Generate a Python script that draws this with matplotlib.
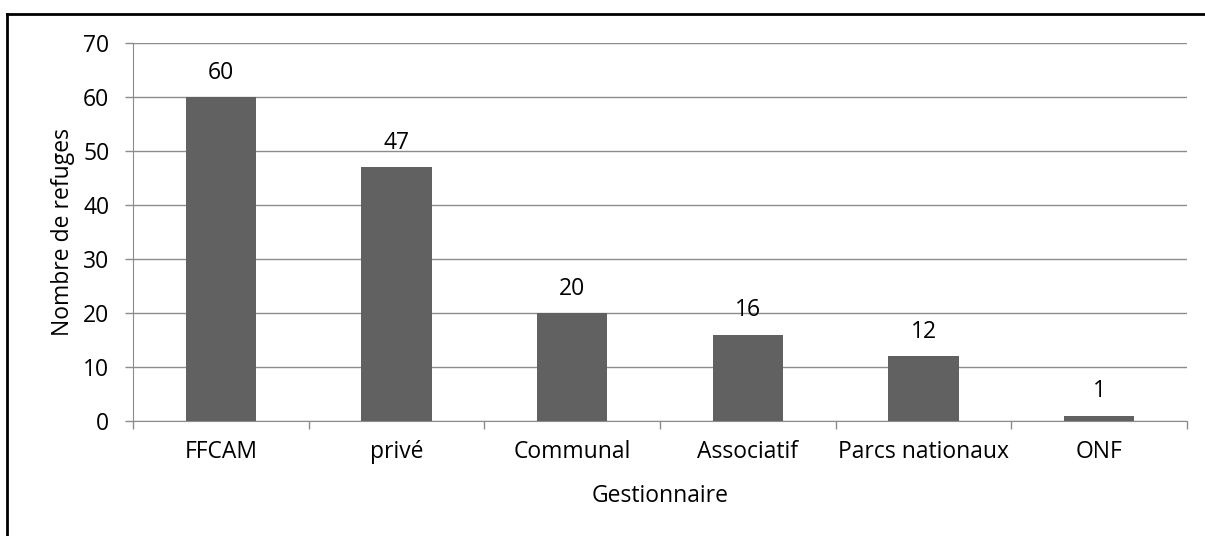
import matplotlib
matplotlib.use("Agg")
import matplotlib.pyplot as plt
from matplotlib.lines import Line2D

categories = ["FFCAM", "privé", "Communal", "Associatif", "Parcs nationaux", "ONF"]
values = [60, 47, 20, 16, 12, 1]
yticks = [0, 10, 20, 30, 40, 50, 60, 70]

plt.rcParams['font.family'] = ['Open Sans', 'DejaVu Sans']
FS = 16.5

W, H = 1205, 536
fig = plt.figure(figsize=(W/100, H/100), dpi=100)
fig.lines.append(Line2D([7/W, 7/W], [0, 1-14/H], transform=fig.transFigure, color='black', linewidth=2))
fig.lines.append(Line2D([7/W, 1], [1-14/H, 1-14/H], transform=fig.transFigure, color='black', linewidth=2))

ax = fig.add_axes([133/W, 1-421/H, (1187-133)/W, (421-43)/H])
x = list(range(len(categories)))
bars = ax.bar(x, values, width=0.4, color='#616161', zorder=3)
for xi, v in zip(x, values):
    ax.text(xi, v + 2.3, str(v), ha='center', va='bottom', fontsize=FS, color='black')

ax.set_xlim(-0.5, len(categories) - 0.5)
ax.set_ylim(0, 70)
ax.set_yticks(yticks)
ax.yaxis.grid(True, color='#8c8c8c', linewidth=1, zorder=0)
ax.set_xticks(x)
ax.set_xticklabels(categories, fontsize=FS)
ax.tick_params(axis='x', length=0, pad=14)
ax.set_xticks([i - 0.5 for i in range(len(categories) + 1)], minor=True)
ax.tick_params(axis='x', which='minor', length=6, color='#8c8c8c', width=1, direction='out')
ax.tick_params(axis='y', length=6, color='#8c8c8c', width=1, labelsize=FS, pad=11)
for s in ['top', 'right']:
    ax.spines[s].set_visible(False)
ax.spines['left'].set_color('#8c8c8c')
ax.spines['bottom'].set_color('#8c8c8c')
ax.set_ylabel("Nombre de refuges", fontsize=FS, labelpad=6)
ax.set_xlabel("Gestionnaire", fontsize=FS, labelpad=14)

fig.savefig("out.png", dpi=100)
